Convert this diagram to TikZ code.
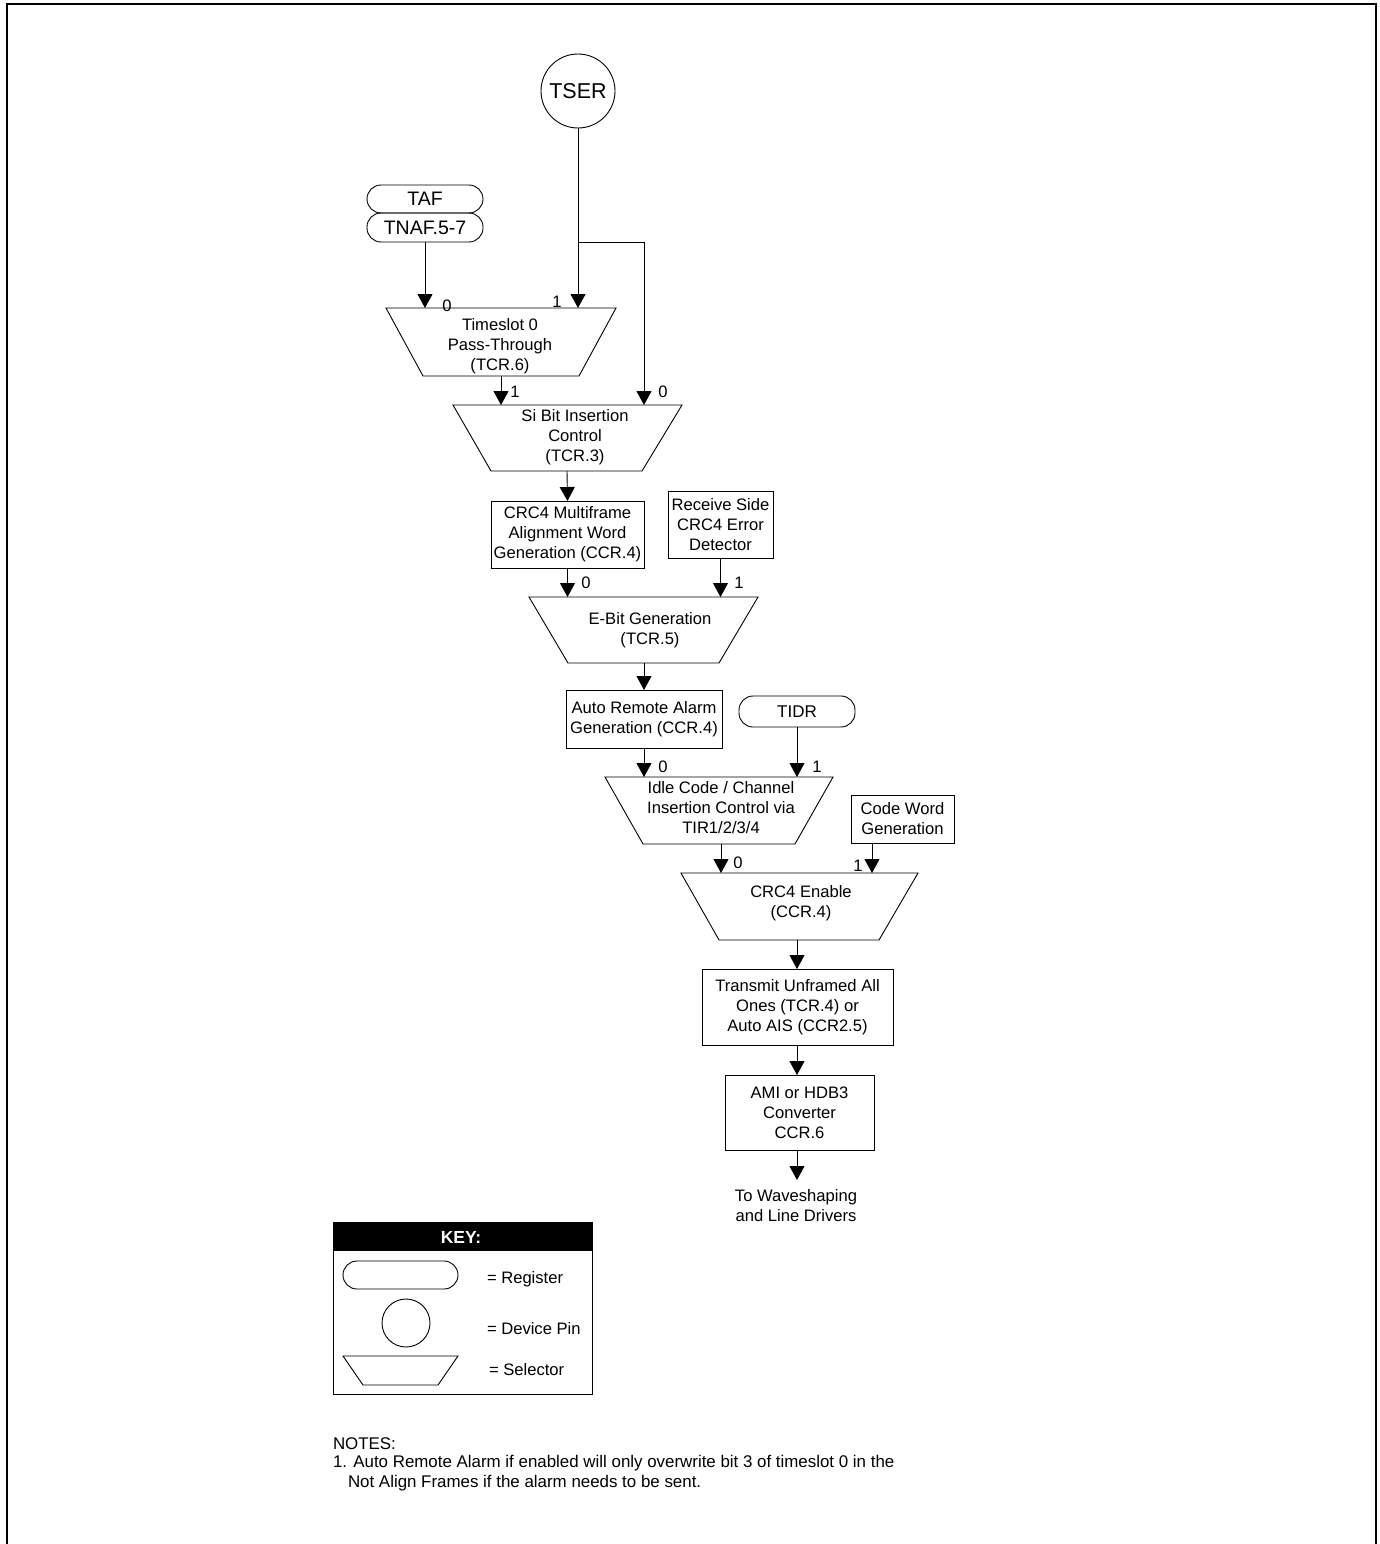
\documentclass[tikz,border=0pt]{standalone}
\usepackage{fontspec}
\setmainfont{Liberation Sans}
\usetikzlibrary{arrows.meta}
\begin{document}
\begin{tikzpicture}[x=1pt,y=-1pt,
  every node/.style={font=\fontsize{16.6}{20}\selectfont, inner sep=0pt, outer sep=0pt},
  ln/.style={line width=0.9pt},
  arr/.style={ln, -{Triangle[width=15pt,length=14pt]}},
  sel/.style={ln},
  blk/.style={draw, ln, rectangle, align=center},
  reg/.style={draw, ln, rectangle, rounded corners=14pt, align=center},
  pin/.style={draw, ln, circle},
  lbl/.style={font=\fontsize{16.6}{20}\selectfont},
  txt/.style={align=center},
  note/.style={anchor=west, font=\fontsize{16.9}{20}\selectfont}
]
\useasboundingbox (0,0) rectangle (1380,1544);
% outer frame (open at the bottom)
\draw[line width=2.2pt] (7,1550) -- (7,4) -- (1376,4) -- (1376,1550);

% ---------- sources ----------
\node[pin, minimum size=74pt, font=\fontsize{21.5}{24}\selectfont] (tser) at (578,91) {TSER};
\node[reg, minimum width=116pt, minimum height=28pt, font=\fontsize{19.5}{22}\selectfont] (taf) at (425,199) {TAF};
\node[reg, minimum width=116pt, minimum height=29pt, font=\fontsize{19.5}{22}\selectfont] (tnaf) at (425,227.5) {TNAF.5-7};

% ---------- selector 1: Timeslot 0 Pass-Through ----------
\draw[sel] (386,308) -- (616,308) -- (579,376) -- (423,376) -- cycle;
\node[txt] (ts) at (500,346) {Timeslot 0\\Pass-Through\\(TCR.6)};
\coordinate (ts-in0) at (425,308);
\coordinate (ts-in1) at (578,308);
\coordinate (ts-out) at (501,376);
\coordinate (br) at (578,242);

% ---------- selector 2: Si Bit ----------
\draw[sel] (453,405) -- (682,405) -- (642,471) -- (491,471) -- cycle;
\node[txt] (si) at (575,437) {Si Bit Insertion\\Control\\(TCR.3)};
\coordinate (si-in1) at (501,405);
\coordinate (si-in0) at (644,405);
\coordinate (si-out) at (567,471);

% ---------- boxes ----------
\node[blk, minimum width=153pt, minimum height=67pt] (mfa) at (567.5,534.5) {CRC4 Multiframe\\Alignment Word\\Generation (CCR.4)};
\node[blk, minimum width=105pt, minimum height=67pt] (rx) at (720.5,524.5) {Receive Side\\CRC4 Error\\Detector};

% ---------- selector 3: E-Bit ----------
\draw[sel] (529,597) -- (758,597) -- (719,663) -- (568,663) -- cycle;
\node[txt] (eb) at (650,630.5) {E-Bit Generation\\(TCR.5)};
\coordinate (eb-in0) at (567.5,597);
\coordinate (eb-in1) at (720.5,597);
\coordinate (eb-out) at (644,663);

\node[blk, minimum width=156pt, minimum height=58pt] (ara) at (644,719) {Auto Remote Alarm\\Generation (CCR.4)};
\node[reg, minimum width=116pt, minimum height=31pt, font=\fontsize{17}{20}\selectfont] (tidr) at (797,711.5) {TIDR};

% ---------- selector 4: Idle code ----------
\draw[sel] (605,777) -- (833,777) -- (795,844) -- (643,844) -- cycle;
\node[txt] (idle) at (721,808) {Idle Code / Channel\\Insertion Control via\\TIR1/2/3/4};
\coordinate (idle-in0) at (644,777);
\coordinate (idle-in1) at (797,777);
\coordinate (idle-out) at (721,844);

\node[blk, minimum width=103pt, minimum height=48pt] (cw) at (902.5,819) {Code Word\\Generation};

% ---------- selector 5: CRC4 Enable ----------
\draw[sel] (681,873) -- (918,873) -- (879,940) -- (719,940) -- cycle;
\node[txt] (crc) at (801,903) {CRC4 Enable\\(CCR.4)};
\coordinate (crc-in0) at (721,873);
\coordinate (crc-in1) at (872,873);
\coordinate (crc-out) at (797,940);

\node[blk, minimum width=191pt, minimum height=76pt] (tx) at (797.5,1007) {Transmit Unframed All\\Ones (TCR.4) or\\Auto AIS (CCR2.5)};
\node[blk, minimum width=149pt, minimum height=75pt] (ami) at (799.5,1112.5) {AMI or HDB3\\Converter\\CCR.6};
\node[txt] (dest) at (796,1206) {To Waveshaping\\and Line Drivers};
\coordinate (dest-in) at (797,1180);

% ---------- connectors ----------
\draw[arr] (tnaf.south) -- (ts-in0);
\draw[arr] (tser.south) -- (ts-in1);
\draw[arr] (br) -| (si-in0);
\draw[arr] (ts-out) -- (si-in1);
\draw[arr] (si-out) -- (mfa.north);
\draw[arr] (mfa.south) -- (eb-in0);
\draw[arr] (rx.south) -- (eb-in1);
\draw[arr] (eb-out) -- (ara.north);
\draw[arr] (ara.south) -- (idle-in0);
\draw[arr] (tidr.south) -- (idle-in1);
\draw[arr] (idle-out) -- (crc-in0);
\draw[arr] (crc-in1 |- cw.south) -- (crc-in1);
\draw[arr] (crc-out) -- (crc-out |- tx.north);
\draw[arr] (crc-out |- tx.south) -- (crc-out |- ami.north);
\draw[arr] (crc-out |- ami.south) -- (dest-in);

% ---------- input labels ----------
\node[lbl] (l1) at (447,306) {0};
\node[lbl] (l2) at (557,302) {1};
\node[lbl] (l3) at (515,392) {1};
\node[lbl] (l4) at (663,392) {0};
\node[lbl] (l5) at (586,583) {0};
\node[lbl] (l6) at (739,583) {1};
\node[lbl] (l7) at (663,767) {0};
\node[lbl] (l8) at (817,767) {1};
\node[lbl] (l9) at (738,863) {0};
\node[lbl] (l10) at (858,866) {1};

% ---------- key ----------
\draw[ln] (333,1222) rectangle (592,1394);
\fill[black] (333,1222) rectangle (592,1251);
\node[text=white, font=\bfseries\fontsize{17.5}{20}\selectfont] (keyt) at (461,1237) {KEY:};
\node[reg, minimum width=115pt, minimum height=28pt] (kreg) at (400.5,1275) {};
\node[pin, minimum size=48pt] (kpin) at (406,1323) {};
\draw[sel] (343,1356) -- (458,1356) -- (438,1385) -- (363,1385) -- cycle;
\node[anchor=west] (kt1) at (487,1279) {= Register};
\node[anchor=west] (kt2) at (487,1329) {= Device Pin};
\node[anchor=west] (kt3) at (489,1370) {= Selector};

% ---------- notes ----------
\node[note] (n0) at (333,1444) {NOTES:};
\node[note] (n1) at (333,1463) {1. Auto Remote Alarm if enabled will only overwrite bit 3 of timeslot 0 in the};
\node[note] (n2) at (348,1483) {Not Align Frames if the alarm needs to be sent.};
\end{tikzpicture}
\end{document}
